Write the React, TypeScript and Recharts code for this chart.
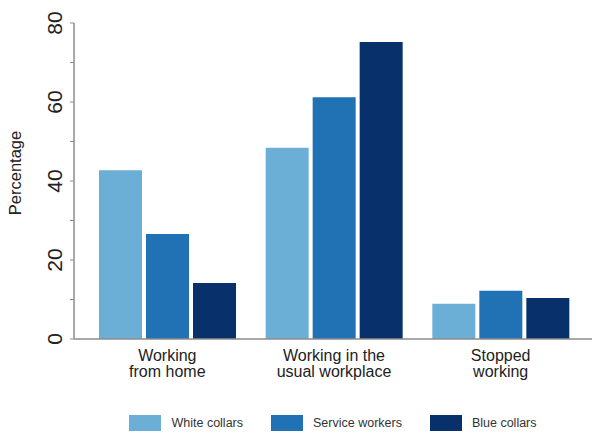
import { BarChart, Bar, XAxis, YAxis, Legend, Label } from 'recharts';

const categories = ['Working from home', 'Working in the usual workplace', 'Stopped working'];
const categoryLines = [
  ['Working', 'from home'],
  ['Working in the', 'usual workplace'],
  ['Stopped', 'working'],
];
const seriesNames = ['White collars', 'Service workers', 'Blue collars'];
const whiteCollars = [42.7, 48.4, 8.9];
const serviceWorkers = [26.6, 61.2, 12.2];
const blueCollars = [14.2, 75.2, 10.4];
const yTicks = [0, 10, 20, 30, 40, 50, 60, 70, 80];

const data = categories.map((name, i) => ({
  name,
  white: whiteCollars[i],
  service: serviceWorkers[i],
  blue: blueCollars[i],
}));

const FONT = '"Liberation Sans", Arial, sans-serif';

const YTick = (props: any) => {
  const { x, y, payload } = props;
  if (payload.value % 20 !== 0) return null;
  return (
    <text
      transform={`translate(${x},${y}) rotate(-90)`}
      textAnchor="middle"
      fontSize={21}
      fontFamily={FONT}
      fill="#222"
    >
      {payload.value}
    </text>
  );
};

const XTick = (props: any) => {
  const { x, y, index } = props;
  const lines = categoryLines[index] || [];
  return (
    <text x={x} y={y} textAnchor="middle" fontSize={16} fontFamily={FONT} fill="#222">
      {lines.map((l, i) => (
        <tspan key={i} x={x} dy={i === 0 ? 21.5 : 16.5}>
          {l}
        </tspan>
      ))}
    </text>
  );
};

const renderLegend = (props: any) => {
  const items = [...(props.payload || [])].sort(
    (a: any, b: any) => seriesNames.indexOf(a.value) - seriesNames.indexOf(b.value)
  );
  return (
    <div
      style={{
        display: 'flex',
        justifyContent: 'center',
        alignItems: 'center',
        gap: 28,
        height: 16,
        fontFamily: FONT,
        fontSize: 12.5,
        color: '#333',
      }}
    >
      {items.map((p: any) => (
        <div key={p.value} style={{ display: 'flex', alignItems: 'center' }}>
          <span style={{ display: 'inline-block', width: 32, height: 16, background: p.color, marginRight: 10 }} />
          <span>{p.value}</span>
        </div>
      ))}
    </div>
  );
};

const renderYLabel = (props: any) => {
  const { viewBox } = props;
  const cy = viewBox.y + viewBox.height / 2 - 8;
  return (
    <text
      transform={`translate(21,${cy}) rotate(-90)`}
      textAnchor="middle"
      fontSize={16.5}
      fontFamily={FONT}
      fill="#222"
    >
      Percentage
    </text>
  );
};

export default function App() {
  return (
    <div style={{ position: 'absolute', left: 0, top: 0, background: '#fff' }}>
      <BarChart
        width={592}
        height={436}
        data={data}
        margin={{ top: 23, right: 0, left: 0, bottom: 5 }}
        barSize={43}
        barGap={4}
      >
        <XAxis
          dataKey="name"
          height={76}
          tickLine={false}
          tickSize={0}
          tickMargin={0}
          tick={<XTick />}
          interval={0}
          padding={{ left: 10, right: 8 }}
          axisLine={{ stroke: '#8c8c8c', strokeWidth: 1.5 }}
        />
        <YAxis
          width={74}
          domain={[0, 80]}
          ticks={yTicks}
          interval={0}
          tickSize={4}
          tickMargin={8}
          tick={<YTick />}
          tickLine={{ stroke: '#8c8c8c' }}
          axisLine={{ stroke: '#8c8c8c', strokeWidth: 1.5 }}
        >
          <Label content={renderYLabel} />
        </YAxis>
        <Legend
          verticalAlign="bottom"
          content={renderLegend}
          wrapperStyle={{ left: 74, width: 518 }}
        />
        <Bar dataKey="white" name={seriesNames[0]} fill="#6BAED6" isAnimationActive={false} />
        <Bar dataKey="service" name={seriesNames[1]} fill="#2171B5" isAnimationActive={false} />
        <Bar dataKey="blue" name={seriesNames[2]} fill="#08306B" isAnimationActive={false} />
      </BarChart>
    </div>
  );
}
